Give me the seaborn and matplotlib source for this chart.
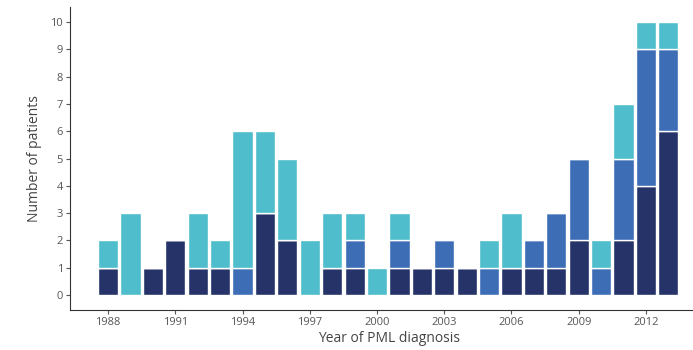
import numpy as np
import pandas as pd
import matplotlib
matplotlib.use("Agg")
import matplotlib.pyplot as plt
import seaborn as sns

years = list(range(1988, 2014))
group_1 = [1, 0, 1, 2, 1, 1, 0, 3, 2, 0, 1, 1, 0, 1, 1, 1, 1, 0, 1, 1, 1, 2, 0, 2, 4, 6]
group_2 = [0, 0, 0, 0, 0, 0, 1, 0, 0, 0, 0, 1, 0, 1, 0, 1, 0, 1, 0, 1, 2, 3, 1, 3, 5, 3]
group_3 = [1, 3, 0, 0, 2, 1, 5, 3, 3, 2, 2, 1, 1, 1, 0, 0, 0, 1, 2, 0, 0, 0, 1, 2, 1, 1]
group_names = ["Group 1", "Group 2", "Group 3"]
group_colors = ["#253368", "#3c6db5", "#4fbdcb"]
x_ticks = [1988, 1991, 1994, 1997, 2000, 2003, 2006, 2009, 2012]
y_ticks = list(range(0, 11))

frames = []
for name, vals in zip(group_names, [group_1, group_2, group_3]):
    frames.append(pd.DataFrame({"year": years, "count": vals, "group": name}))
df = pd.concat(frames, ignore_index=True)

sns.set_theme(style="ticks")
plt.rcParams["font.family"] = ["Open Sans", "DejaVu Sans"]

fig = plt.figure(figsize=(6.93, 3.5), dpi=100)
ax = fig.add_axes([0.101, 0.114, 0.92, 0.866])

# first hue level ends up on top of the stack, so list from top to bottom
sns.histplot(
    data=df, x="year", weights="count", hue="group",
    hue_order=group_names[::-1],
    palette=dict(zip(group_names, group_colors)),
    multiple="stack", discrete=True, shrink=0.9,
    alpha=1, edgecolor="white", linewidth=1.0,
    legend=False, ax=ax,
)

ax.set_xlim(1986.3, 2014.75)
ax.set_ylim(-0.55, 10.55)
ax.set_xticks(x_ticks)
ax.set_yticks(y_ticks)
ax.set_xlabel("Year of PML diagnosis", fontsize=10, color="#444444", labelpad=2)
ax.set_ylabel("Number of patients", fontsize=10, color="#444444", labelpad=6)
ax.tick_params(axis="both", labelsize=8, colors="#555555", length=3, width=0.8, pad=2)
for s in ["top", "right"]:
    ax.spines[s].set_visible(False)
for s in ["left", "bottom"]:
    ax.spines[s].set_color("#333333")
    ax.spines[s].set_linewidth(0.8)

fig.savefig("out.png", dpi=100)
